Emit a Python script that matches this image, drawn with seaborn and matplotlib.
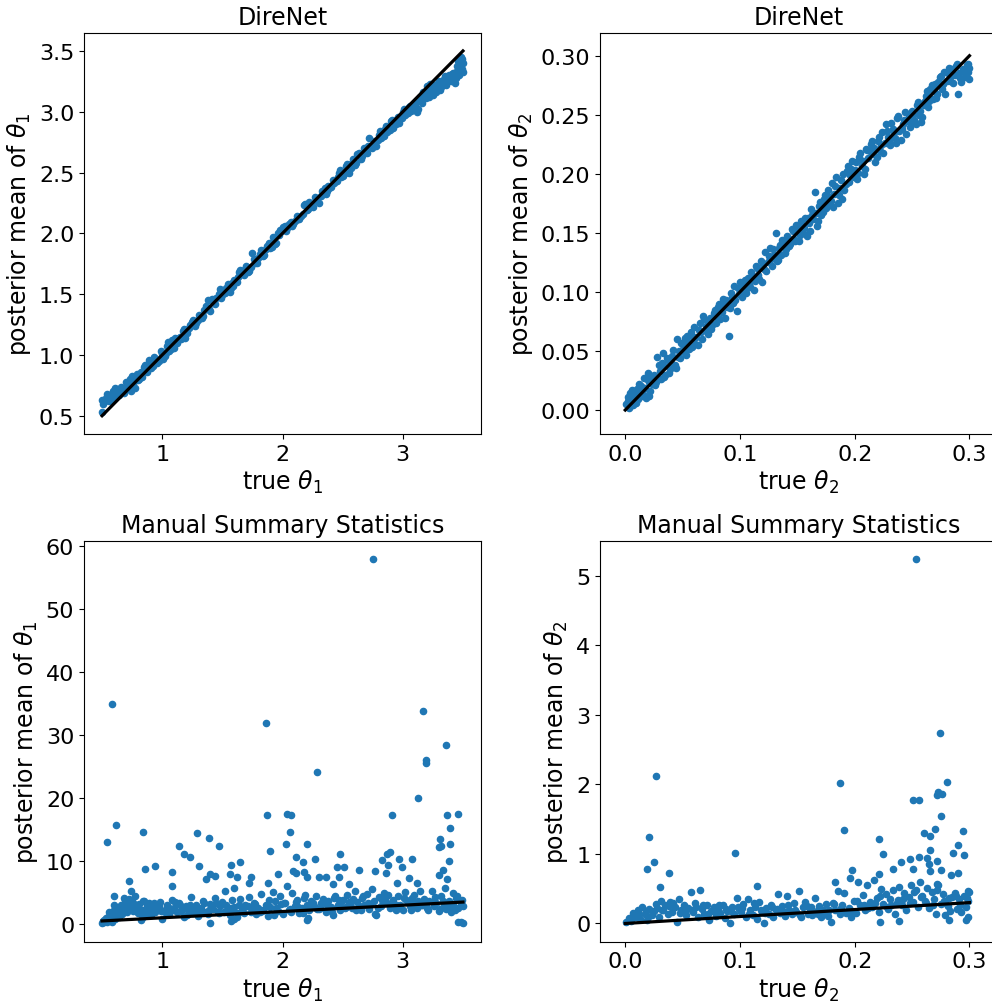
import matplotlib
matplotlib.use("Agg")
import matplotlib.pyplot as plt
import seaborn as sns

# ---------------- data ----------------
# identity reference lines (true range of each parameter)
line_theta1 = [0.5, 3.5]
line_theta2 = [0.0, 0.3]

# DireNet, theta1
dn1_true = [0.50, 0.50, 0.52, 0.53, 0.55, 0.57, 0.58, 0.60, 0.62, 0.63, 0.65, 0.67, 0.68, 0.70, 0.71,
            0.73, 0.74, 0.76, 0.78, 0.80, 0.82, 0.84, 0.86, 0.88, 0.90, 0.92, 0.95, 0.97, 1.00, 1.02,
            1.04, 1.06, 1.08, 1.10, 1.12, 1.15, 1.17, 1.19, 1.22, 1.25, 1.27, 1.30, 1.33, 1.35, 1.38,
            1.40, 1.42, 1.45, 1.48, 1.50, 1.53, 1.56, 1.58, 1.60, 1.63, 1.65, 1.68, 1.70, 1.72, 1.75,
            1.77, 1.80, 1.82, 1.85, 1.87, 1.90, 1.92, 1.94, 1.96, 1.98, 2.00, 2.03, 2.05, 2.08, 2.10,
            2.13, 2.15, 2.18, 2.20, 2.22, 2.25, 2.28, 2.30, 2.33, 2.36, 2.38, 2.40, 2.43, 2.46, 2.48,
            2.50, 2.53, 2.55, 2.58, 2.60, 2.62, 2.65, 2.68, 2.70, 2.72, 2.75, 2.78, 2.80, 2.82, 2.85,
            2.87, 2.90, 2.92, 2.95, 2.97, 3.00, 3.02, 3.05, 3.07, 3.10, 3.12, 3.14, 3.16, 3.18, 3.20,
            3.22, 3.24, 3.26, 3.28, 3.30, 3.32, 3.34, 3.36, 3.38, 3.40, 3.42, 3.44, 3.45, 3.46, 3.48,
            3.49, 3.50, 3.48, 3.47]
dn1_post = [0.53, 0.63, 0.61, 0.65, 0.64, 0.67, 0.63, 0.69, 0.66, 0.71, 0.70, 0.73, 0.69, 0.78, 0.74,
            0.80, 0.70, 0.76, 0.80, 0.79, 0.86, 0.85, 0.92, 0.89, 0.94, 0.91, 0.97, 0.95, 1.01, 0.99,
            1.07, 1.03, 1.12, 1.06, 1.10, 1.15, 1.20, 1.14, 1.22, 1.27, 1.24, 1.29, 1.30, 1.37, 1.45,
            1.36, 1.44, 1.47, 1.54, 1.49, 1.55, 1.52, 1.59, 1.62, 1.64, 1.70, 1.66, 1.73, 1.69, 1.84,
            1.76, 1.80, 1.86, 1.82, 1.90, 1.88, 1.97, 1.91, 2.00, 2.03, 2.05, 2.02, 2.08, 2.06, 2.10,
            2.12, 2.14, 2.23, 2.19, 2.26, 2.22, 2.28, 2.25, 2.35, 2.32, 2.39, 2.38, 2.41, 2.46, 2.52,
            2.47, 2.55, 2.50, 2.58, 2.56, 2.65, 2.61, 2.70, 2.66, 2.78, 2.73, 2.72, 2.81, 2.78, 2.86,
            2.83, 2.92, 2.87, 2.94, 2.91, 3.00, 2.97, 3.04, 3.01, 3.05, 3.00, 3.12, 3.07, 3.14, 3.21,
            3.12, 3.18, 3.22, 3.16, 3.25, 3.20, 3.27, 3.22, 3.30, 3.25, 3.32, 3.28, 3.38, 3.34, 3.42,
            3.35, 3.40, 3.45, 3.30]
dn1_extra = [(0.51, 0.60), (0.54, 0.68), (0.56, 0.62), (0.59, 0.70), (0.61, 0.73), (0.64, 0.67),
             (0.66, 0.74), (0.69, 0.72), (0.72, 0.77), (0.75, 0.83), (0.77, 0.73), (0.79, 0.84),
             (0.81, 0.80), (0.83, 0.82), (0.85, 0.90), (0.87, 0.86), (0.89, 0.96), (0.91, 0.89),
             (0.93, 0.98), (0.96, 0.93), (0.99, 1.03), (1.01, 0.97), (1.03, 1.02), (1.05, 1.11),
             (1.07, 1.05), (1.09, 1.08), (1.11, 1.14), (1.13, 1.12), (1.16, 1.13), (1.18, 1.21),
             (1.21, 1.18), (1.23, 1.25), (1.26, 1.29), (1.28, 1.26), (1.31, 1.33), (1.34, 1.32),
             (1.36, 1.40), (1.39, 1.38), (1.41, 1.46), (1.44, 1.42), (1.47, 1.50), (1.49, 1.47),
             (1.52, 1.51), (1.55, 1.58), (1.57, 1.55), (1.59, 1.57), (1.62, 1.60), (1.64, 1.68),
             (1.67, 1.67), (1.69, 1.71), (1.71, 1.68), (1.74, 1.72), (1.76, 1.79), (1.79, 1.76),
             (1.81, 1.83), (1.84, 1.81), (1.86, 1.87), (1.89, 1.92), (1.91, 1.89), (1.93, 1.95),
             (1.95, 1.92), (1.97, 1.99), (1.99, 2.02), (2.02, 2.06), (2.04, 2.04), (2.07, 2.09),
             (2.09, 2.08), (2.12, 2.14), (2.14, 2.12), (2.17, 2.16), (2.19, 2.24), (2.21, 2.20),
             (2.24, 2.24), (2.27, 2.30), (2.29, 2.27), (2.32, 2.31), (2.35, 2.37), (2.37, 2.35),
             (2.39, 2.37), (2.42, 2.44), (2.45, 2.43), (2.47, 2.50), (2.49, 2.46), (2.52, 2.50),
             (2.54, 2.57), (2.57, 2.54), (2.59, 2.61), (2.61, 2.58), (2.64, 2.66), (2.66, 2.64),
             (2.69, 2.67), (2.71, 2.72), (2.74, 2.70), (2.76, 2.76), (2.79, 2.77), (2.81, 2.84),
             (2.84, 2.80), (2.86, 2.88), (2.89, 2.85), (2.91, 2.93), (2.94, 2.90), (2.96, 2.96),
             (2.99, 2.95), (3.01, 3.02), (3.04, 2.99), (3.06, 3.05), (3.09, 3.03), (3.11, 3.08),
             (3.13, 3.02), (3.15, 3.10), (3.17, 3.16), (3.19, 3.11), (3.21, 3.17), (3.23, 3.23),
             (3.25, 3.14), (3.27, 3.20), (3.29, 3.24), (3.31, 3.18), (3.33, 3.23), (3.35, 3.29),
             (3.37, 3.25), (3.39, 3.27), (3.41, 3.31), (3.43, 3.24), (3.44, 3.33), (3.46, 3.42),
             (3.47, 3.36), (3.49, 3.43), (3.50, 3.33)]

# DireNet, theta2
dn2_true = [0.001, 0.002, 0.003, 0.004, 0.005, 0.006, 0.007, 0.008, 0.010, 0.011, 0.012, 0.013, 0.015,
            0.016, 0.017, 0.018, 0.020, 0.021, 0.022, 0.024, 0.026, 0.028, 0.030, 0.031, 0.033, 0.034,
            0.035, 0.037, 0.039, 0.041, 0.043, 0.045, 0.047, 0.048, 0.050, 0.052, 0.053, 0.055, 0.057,
            0.058, 0.060, 0.062, 0.063, 0.065, 0.066, 0.068, 0.070, 0.072, 0.074, 0.076, 0.078, 0.080,
            0.082, 0.084, 0.085, 0.087, 0.089, 0.090, 0.092, 0.094, 0.095, 0.097, 0.099, 0.100, 0.102,
            0.104, 0.106, 0.108, 0.110, 0.112, 0.114, 0.116, 0.118, 0.119, 0.121, 0.122, 0.124, 0.126,
            0.128, 0.130, 0.131, 0.133, 0.135, 0.137, 0.139, 0.141, 0.143, 0.145, 0.147, 0.149, 0.151,
            0.153, 0.155, 0.157, 0.158, 0.160, 0.162, 0.164, 0.165, 0.167, 0.169, 0.171, 0.173, 0.175,
            0.177, 0.179, 0.180, 0.182, 0.184, 0.185, 0.187, 0.189, 0.190, 0.192, 0.194, 0.196, 0.198,
            0.200, 0.202, 0.204, 0.206, 0.208, 0.210, 0.212, 0.214, 0.216, 0.218, 0.220, 0.222, 0.224,
            0.226, 0.227, 0.229, 0.231, 0.233, 0.235, 0.237, 0.239, 0.240, 0.242, 0.244, 0.246, 0.248,
            0.250, 0.252, 0.254, 0.256, 0.258, 0.260, 0.262, 0.264, 0.266, 0.268, 0.270, 0.272, 0.274,
            0.276, 0.278, 0.280, 0.282, 0.284, 0.286, 0.288, 0.290, 0.291, 0.293, 0.295, 0.296, 0.298,
            0.299, 0.300, 0.300]
dn2_post = [0.005, 0.011, 0.002, 0.014, 0.008, 0.017, 0.004, 0.012, 0.018, 0.009, 0.022, 0.015, 0.012,
            0.027, 0.019, 0.010, 0.031, 0.024, 0.016, 0.028, 0.021, 0.045, 0.033, 0.026, 0.048, 0.037,
            0.030, 0.042, 0.035, 0.046, 0.038, 0.060, 0.050, 0.044, 0.055, 0.061, 0.047, 0.058, 0.066,
            0.053, 0.070, 0.062, 0.055, 0.074, 0.066, 0.080, 0.071, 0.064, 0.078, 0.072, 0.085, 0.079,
            0.090, 0.083, 0.094, 0.078, 0.087, 0.063, 0.099, 0.091, 0.105, 0.084, 0.098, 0.108, 0.096,
            0.110, 0.103, 0.107, 0.117, 0.102, 0.122, 0.114, 0.126, 0.108, 0.119, 0.134, 0.125, 0.137,
            0.122, 0.131, 0.150, 0.127, 0.140, 0.144, 0.133, 0.147, 0.139, 0.153, 0.145, 0.157, 0.143,
            0.160, 0.150, 0.163, 0.147, 0.158, 0.170, 0.162, 0.185, 0.156, 0.173, 0.165, 0.179, 0.171,
            0.186, 0.177, 0.192, 0.183, 0.197, 0.175, 0.188, 0.179, 0.200, 0.191, 0.207, 0.199, 0.211,
            0.203, 0.196, 0.214, 0.207, 0.200, 0.221, 0.213, 0.225, 0.217, 0.210, 0.228, 0.219, 0.235,
            0.226, 0.242, 0.231, 0.224, 0.238, 0.230, 0.247, 0.236, 0.229, 0.242, 0.252, 0.245, 0.240,
            0.253, 0.246, 0.258, 0.250, 0.244, 0.258, 0.266, 0.257, 0.272, 0.263, 0.276, 0.268, 0.282,
            0.272, 0.286, 0.279, 0.290, 0.283, 0.277, 0.291, 0.268, 0.285, 0.278, 0.288, 0.282, 0.292,
            0.286, 0.290, 0.280]
dn2_extra = [(0.002, 0.008), (0.004, 0.003), (0.006, 0.012), (0.009, 0.006), (0.011, 0.016),
             (0.014, 0.020), (0.016, 0.013), (0.019, 0.026), (0.021, 0.012), (0.023, 0.022),
             (0.025, 0.030), (0.027, 0.024), (0.029, 0.038), (0.032, 0.040), (0.034, 0.028),
             (0.036, 0.044), (0.038, 0.031), (0.040, 0.040), (0.042, 0.051), (0.044, 0.036),
             (0.046, 0.045), (0.049, 0.057), (0.051, 0.049), (0.054, 0.063), (0.056, 0.052),
             (0.059, 0.062), (0.061, 0.056), (0.064, 0.068), (0.067, 0.060), (0.069, 0.077),
             (0.071, 0.067), (0.073, 0.075), (0.075, 0.069), (0.077, 0.082), (0.079, 0.074),
             (0.081, 0.087), (0.083, 0.077), (0.086, 0.089), (0.088, 0.093), (0.091, 0.086),
             (0.093, 0.096), (0.096, 0.093), (0.098, 0.103), (0.101, 0.100), (0.103, 0.106),
             (0.105, 0.099), (0.107, 0.112), (0.109, 0.104), (0.111, 0.113), (0.113, 0.109),
             (0.115, 0.120), (0.117, 0.111), (0.120, 0.124), (0.123, 0.118), (0.125, 0.130),
             (0.127, 0.128), (0.129, 0.136), (0.132, 0.126), (0.134, 0.137), (0.136, 0.131),
             (0.138, 0.142), (0.140, 0.136), (0.142, 0.146), (0.144, 0.141), (0.146, 0.152),
             (0.148, 0.143), (0.150, 0.155), (0.152, 0.148), (0.154, 0.157), (0.156, 0.154),
             (0.159, 0.163), (0.161, 0.152), (0.163, 0.165), (0.166, 0.167), (0.168, 0.160),
             (0.170, 0.176), (0.172, 0.168), (0.174, 0.182), (0.176, 0.174), (0.178, 0.180),
             (0.181, 0.172), (0.183, 0.190), (0.186, 0.182), (0.188, 0.195), (0.191, 0.186),
             (0.193, 0.202), (0.195, 0.193), (0.197, 0.204), (0.199, 0.197), (0.201, 0.210),
             (0.203, 0.201), (0.205, 0.218), (0.207, 0.211), (0.209, 0.204), (0.211, 0.220),
             (0.213, 0.219), (0.215, 0.228), (0.217, 0.222), (0.219, 0.214), (0.221, 0.231),
             (0.223, 0.224), (0.225, 0.218), (0.228, 0.236), (0.230, 0.228), (0.232, 0.243),
             (0.234, 0.235), (0.236, 0.226), (0.238, 0.249), (0.241, 0.238), (0.243, 0.246),
             (0.245, 0.234), (0.247, 0.249), (0.249, 0.243), (0.251, 0.251), (0.253, 0.242),
             (0.255, 0.261), (0.257, 0.253), (0.259, 0.248), (0.261, 0.262), (0.263, 0.270),
             (0.265, 0.262), (0.267, 0.275), (0.269, 0.270), (0.271, 0.264), (0.273, 0.278),
             (0.275, 0.283), (0.277, 0.276), (0.279, 0.268), (0.281, 0.285), (0.283, 0.279),
             (0.285, 0.289), (0.287, 0.284), (0.289, 0.293), (0.292, 0.281), (0.294, 0.289),
             (0.297, 0.284), (0.299, 0.293)]

# Manual summary statistics, theta1
ms1_true = [0.50, 0.51, 0.52, 0.53, 0.54, 0.55, 0.56, 0.57, 0.58, 0.59, 0.60, 0.61, 0.62, 0.63, 0.64,
            0.65, 0.66, 0.67, 0.68, 0.69, 0.70, 0.71, 0.72, 0.73, 0.74, 0.75, 0.76, 0.77, 0.78, 0.79,
            0.80, 0.81, 0.82, 0.83, 0.84, 0.85, 0.86, 0.87, 0.88, 0.89, 0.90, 0.92, 0.94, 0.96, 0.98,
            1.00, 1.02, 1.04, 1.06, 1.08, 1.10, 1.12, 1.14, 1.16, 1.18, 1.20, 1.22, 1.24, 1.26, 1.28,
            1.30, 1.32, 1.34, 1.36, 1.38, 1.40, 1.42, 1.44, 1.46, 1.48, 1.50, 1.52, 1.54, 1.56, 1.58,
            1.60, 1.62, 1.64, 1.66, 1.68, 1.70, 1.72, 1.74, 1.76, 1.78, 1.80, 1.82, 1.84, 1.86, 1.88,
            1.90, 1.92, 1.94, 1.96, 1.98, 2.00, 2.02, 2.04, 2.06, 2.08, 2.10, 2.12, 2.14, 2.16, 2.18,
            2.20, 2.22, 2.24, 2.26, 2.28, 2.30, 2.32, 2.34, 2.36, 2.38, 2.40, 2.42, 2.44, 2.46, 2.48,
            2.50, 2.52, 2.54, 2.56, 2.58, 2.60, 2.62, 2.64, 2.66, 2.68, 2.70, 2.72, 2.74, 2.76, 2.78,
            2.80, 2.82, 2.84, 2.86, 2.88, 2.90, 2.92, 2.94, 2.96, 2.98, 3.00, 3.02, 3.04, 3.06, 3.08,
            3.10, 3.12, 3.14, 3.16, 3.18, 3.20, 3.22, 3.24, 3.26, 3.28, 3.30, 3.32, 3.34, 3.36, 3.38,
            3.40, 3.42, 3.44, 3.46, 3.48, 3.50,
            0.91, 0.97, 1.03, 1.09, 1.15, 1.21, 1.27, 1.33, 1.39, 1.45, 1.51, 1.57, 1.63, 1.69, 1.75,
            1.81, 1.87, 1.93, 1.99, 2.05, 2.11, 2.17, 2.23, 2.29, 2.35, 2.41, 2.47, 2.53, 2.59, 2.65,
            2.71, 2.77, 2.83, 2.89, 2.95, 3.01, 3.07, 3.13, 3.19, 3.25, 3.31, 3.37, 3.43, 3.49,
            0.58, 0.54, 0.62, 0.72, 0.84, 0.86, 0.94, 1.08, 1.08, 1.14, 1.18, 1.23, 1.29, 1.31, 1.39,
            1.40, 1.44, 1.36, 1.47, 1.57, 1.56, 1.60, 1.62, 1.65, 1.74, 1.72, 1.86, 1.87, 1.90, 1.88,
            1.96, 2.03, 2.04, 2.07, 2.06, 2.11, 2.09, 2.11, 2.17, 2.18, 2.20, 2.20, 2.29, 2.27, 2.30,
            2.36, 2.42, 2.45, 2.48, 2.51, 2.47, 2.55, 2.64, 2.75, 2.77, 2.83, 2.87, 2.89, 2.86, 2.88,
            2.91, 2.97, 2.99, 2.95, 3.08, 3.05, 3.12, 3.13, 3.17, 3.19, 3.19, 3.31, 3.30, 3.32, 3.30,
            3.33, 3.36, 3.37, 3.39, 3.39, 3.38, 3.37, 3.46, 3.35, 3.42, 3.46, 3.50, 3.48, 1.40, 2.20,
            2.21, 1.57, 1.60, 0.60, 0.74]
ms1_post = [0.2, 0.5, 0.3, 0.9, 0.4, 1.2, 0.6, 1.5, 0.3, 1.8, 2.2, 0.8, 1.4, 2.6, 1.1,
            2.0, 3.1, 1.6, 2.4, 3.8, 2.9, 1.9, 4.0, 3.3, 2.5, 3.6, 2.1, 4.4, 3.0, 2.6,
            1.7, 3.2, 0.7, 2.3, 1.2, 3.7, 2.0, 2.8, 1.5, 3.4, 2.4, 3.1, 1.9, 2.7, 3.5,
            0.8, 2.2, 3.0, 1.6, 3.8, 2.5, 1.9, 3.3, 2.1, 1.2, 2.8, 2.3, 4.3, 1.7, 3.0,
            1.3, 2.6, 3.6, 2.0, 1.6, 3.2, 2.4, 4.1, 1.9, 2.8, 3.5, 5.3, 2.2, 1.4, 3.9,
            2.7, 1.1, 3.1, 2.3, 1.8, 2.9, 4.3, 2.0, 3.4, 1.6, 2.5, 4.8, 2.2, 3.0, 1.3,
            2.7, 5.1, 3.6, 2.1, 4.4, 1.6, 3.3, 6.0, 2.4, 4.9, 2.9, 3.8, 1.8, 2.6, 4.2,
            3.1, 2.2, 3.7, 2.8, 4.5, 2.4, 3.3, 4.0, 2.0, 3.6, 2.7, 1.5, 4.4, 3.0, 2.3,
            3.9, 2.6, 4.7, 3.2, 2.5, 5.2, 3.5, 2.8, 4.1, 3.0, 4.8, 2.4, 5.5, 3.7, 1.4,
            4.3, 2.9, 5.0, 3.3, 4.6, 2.7, 3.8, 2.3, 4.5, 3.1, 2.2, 5.1, 3.6, 2.9, 4.2,
            3.4, 2.6, 5.3, 3.0, 4.0, 2.5, 3.7, 5.2, 2.8, 3.3, 2.1, 4.4, 3.0, 2.4, 3.6,
            2.0, 3.1, 4.2, 2.6, 3.3, 2.8,
            1.4, 2.9, 1.8, 2.3, 3.0, 1.5, 2.6, 1.9, 2.2, 3.4, 2.0, 2.5, 1.7, 3.1, 2.4,
            1.9, 2.8, 1.5, 3.2, 2.2, 3.5, 1.8, 2.9, 2.4, 3.3, 2.0, 3.8, 2.7, 4.0, 2.3,
            3.4, 1.6, 3.9, 2.5, 3.0, 4.1, 2.2, 3.6, 2.8, 3.5, 2.4, 3.1, 2.2, 3.9,
            35.0, 13.1, 15.8, 6.8, 14.6, 8.7, 9.2, 8.2, 6.0, 12.4, 11.2, 10.6, 14.4, 9.3, 13.6,
            7.9, 7.6, 7.1, 12.4, 9.4, 7.9, 5.8, 7.5, 9.9, 7.5, 6.6, 31.9, 17.3, 11.6, 6.5,
            8.0, 12.7, 17.5, 17.4, 14.7, 10.7, 8.5, 8.1, 9.8, 8.2, 7.5, 12.7, 24.1, 10.3, 7.5,
            7.5, 6.4, 9.0, 11.1, 9.1, 7.5, 6.4, 8.6, 58.0, 8.5, 10.2, 11.2, 11.5, 8.1, 9.4,
            17.4, 10.4, 9.0, 6.6, 10.3, 7.4, 6.6, 20.0, 33.9, 26.0, 25.6, 13.5, 12.2, 12.4, 7.8,
            8.6, 28.4, 17.4, 15.2, 12.7, 10.0, 7.2, 17.5, 5.8, 5.0, 0.4, 0.2, 0.3, 0.1, 0.6,
            0.9, 0.5, 0.8, 4.4, 5.3]
ms1_extra = [(0.52, 0.7), (0.56, 1.9), (0.60, 3.0), (0.64, 2.2), (0.68, 4.2), (0.72, 2.7),
             (0.76, 3.4), (0.80, 2.0), (0.84, 3.6), (0.88, 2.5), (0.93, 3.3), (0.99, 2.1),
             (1.05, 2.7), (1.11, 3.5), (1.17, 2.4), (1.23, 3.1), (1.29, 2.0), (1.35, 3.4),
             (1.41, 2.6), (1.47, 1.8), (1.53, 3.0), (1.59, 2.3), (1.65, 4.0), (1.71, 2.8),
             (1.77, 3.2), (1.83, 2.1), (1.89, 3.9), (1.95, 2.6), (2.01, 3.4), (2.07, 2.0),
             (2.13, 2.7), (2.19, 4.6), (2.25, 3.3), (2.31, 2.5), (2.37, 3.0), (2.43, 4.1),
             (2.49, 2.9), (2.55, 3.5), (2.61, 2.2), (2.67, 4.4), (2.73, 3.2), (2.79, 2.5),
             (2.85, 4.0), (2.91, 3.5), (2.97, 2.6), (3.03, 3.9), (3.09, 4.6), (3.15, 3.1),
             (3.21, 2.3), (3.27, 4.3), (3.33, 3.6), (3.39, 2.7), (3.45, 4.5)]

# Manual summary statistics, theta2
ms2_true = [0.001, 0.003, 0.005, 0.007, 0.009, 0.011, 0.013, 0.015, 0.017, 0.019, 0.021, 0.023, 0.025,
            0.027, 0.029, 0.031, 0.033, 0.035, 0.037, 0.039, 0.041, 0.043, 0.045, 0.047, 0.049, 0.051,
            0.053, 0.055, 0.057, 0.059, 0.061, 0.063, 0.065, 0.067, 0.069, 0.071, 0.073, 0.075, 0.077,
            0.079, 0.081, 0.083, 0.085, 0.087, 0.089, 0.091, 0.093, 0.095, 0.097, 0.099, 0.101, 0.103,
            0.105, 0.107, 0.109, 0.111, 0.113, 0.115, 0.117, 0.119, 0.121, 0.123, 0.125, 0.127, 0.129,
            0.131, 0.133, 0.135, 0.137, 0.139, 0.141, 0.143, 0.145, 0.147, 0.149, 0.151, 0.153, 0.155,
            0.157, 0.159, 0.161, 0.163, 0.165, 0.167, 0.169, 0.171, 0.173, 0.175, 0.177, 0.179, 0.181,
            0.183, 0.185, 0.187, 0.189, 0.191, 0.193, 0.195, 0.197, 0.199, 0.201, 0.203, 0.205, 0.207,
            0.209, 0.211, 0.213, 0.215, 0.217, 0.219, 0.221, 0.223, 0.225, 0.227, 0.229, 0.231, 0.233,
            0.235, 0.237, 0.239, 0.241, 0.243, 0.245, 0.247, 0.249, 0.251, 0.253, 0.255, 0.257, 0.259,
            0.261, 0.263, 0.265, 0.267, 0.269, 0.271, 0.273, 0.275, 0.277, 0.279, 0.281, 0.283, 0.285,
            0.287, 0.289, 0.291, 0.293, 0.295, 0.297, 0.299, 0.300,
            0.008, 0.018, 0.028, 0.038, 0.048, 0.058, 0.068, 0.078, 0.088, 0.098, 0.108, 0.118, 0.128,
            0.138, 0.148, 0.158, 0.168, 0.178, 0.188, 0.198, 0.208, 0.218, 0.228, 0.238, 0.248, 0.258,
            0.268, 0.278, 0.288, 0.298,
            0.2535, 0.0265, 0.021, 0.025, 0.0186, 0.038, 0.030, 0.096, 0.115, 0.187, 0.191, 0.198, 0.196,
            0.183, 0.221, 0.225, 0.221, 0.233, 0.240, 0.248, 0.251, 0.256, 0.251, 0.256, 0.260, 0.266,
            0.266, 0.265, 0.266, 0.263, 0.272, 0.273, 0.276, 0.274, 0.270, 0.275, 0.272, 0.275, 0.272,
            0.280, 0.294, 0.290, 0.286, 0.295, 0.290, 0.284, 0.282, 0.297, 0.299, 0.279, 0.222, 0.239,
            0.299]
ms2_post = [0.02, 0.08, 0.04, 0.15, 0.10, 0.19, 0.07, 0.23, 0.14, 0.05, 0.21, 0.12, 0.18,
            0.28, 0.09, 0.33, 0.20, 0.26, 0.13, 0.31, 0.17, 0.24, 0.02, 0.35, 0.19, 0.27,
            0.12, 0.22, 0.45, 0.16, 0.30, 0.09, 0.48, 0.21, 0.14, 0.26, 0.05, 0.18, 0.23,
            0.11, 0.20, 0.15, 0.26, 0.08, 0.18, 0.01, 0.24, 0.13, 0.37, 0.21, 0.16, 0.28,
            0.10, 0.35, 0.19, 0.12, 0.24, 0.07, 0.31, 0.17, 0.01, 0.22, 0.14, 0.27, 0.09,
            0.19, 0.43, 0.15, 0.25, 0.11, 0.40, 0.20, 0.13, 0.29, 0.17, 0.46, 0.10, 0.23,
            0.31, 0.14, 0.21, 0.12, 0.36, 0.18, 0.25, 0.09, 0.16, 0.28, 0.11, 0.02, 0.30,
            0.20, 0.47, 0.14, 0.26, 0.44, 0.17, 0.22, 0.09, 0.33, 0.15, 0.60, 0.26, 0.41,
            0.19, 0.55, 0.31, 0.23, 0.62, 0.36, 0.17, 0.50, 0.28, 0.42, 0.21, 0.35, 0.48,
            0.13, 0.30, 0.52, 0.27, 0.44, 0.19, 0.38, 0.56, 0.31, 0.48, 0.24, 0.60, 0.40,
            0.33, 0.51, 0.22, 0.45, 0.35, 0.13, 0.55, 0.28, 0.42, 0.30, 0.25, 0.18, 0.38,
            0.44, 0.21, 0.35, 0.16, 0.40, 0.23, 0.32, 0.45,
            0.12, 0.18, 0.22, 0.25, 0.15, 0.20, 0.26, 0.17, 0.21, 0.24, 0.14, 0.19, 0.23,
            0.16, 0.20, 0.25, 0.13, 0.19, 0.22, 0.18, 0.26, 0.30, 0.24, 0.34, 0.29, 0.38,
            0.27, 0.33, 0.40, 0.36,
            5.24, 2.12, 1.24, 0.89, 0.79, 0.73, 0.52, 1.01, 0.54, 2.02, 1.35, 0.77, 0.66,
            0.60, 1.21, 1.00, 0.71, 0.78, 0.88, 0.92, 1.78, 1.77, 0.79, 0.95, 1.30, 1.26,
            1.05, 0.85, 0.76, 0.94, 1.84, 1.89, 1.86, 2.74, 1.36, 1.54, 0.90, 0.77, 0.57,
            2.04, 1.33, 1.13, 1.02, 0.99, 0.73, 0.70, 0.05, 0.05, 0.10, 0.12, 0.02, 0.04,
            0.46]
ms2_extra = [(0.004, 0.06), (0.012, 0.14), (0.020, 0.09), (0.032, 0.20), (0.042, 0.29),
             (0.052, 0.16), (0.062, 0.23), (0.072, 0.13), (0.082, 0.27), (0.092, 0.18),
             (0.102, 0.22), (0.112, 0.30), (0.122, 0.15), (0.132, 0.21), (0.142, 0.26),
             (0.152, 0.12), (0.162, 0.24), (0.172, 0.19), (0.182, 0.28), (0.192, 0.15),
             (0.202, 0.33), (0.212, 0.22), (0.222, 0.40), (0.232, 0.27), (0.242, 0.35),
             (0.252, 0.45), (0.262, 0.30), (0.272, 0.48), (0.282, 0.37), (0.292, 0.26)]

titles = ["DireNet", "DireNet", "Manual Summary Statistics", "Manual Summary Statistics"]


def merged(xs, ys, extra):
    return list(xs) + [p[0] for p in extra], list(ys) + [p[1] for p in extra]


# ---------------- figure ----------------
plt.rcParams['font.family'] = ['DejaVu Sans']
fig = plt.figure(figsize=(9.92, 10.03), dpi=100)

W, H = 992.0, 1003.0
def box(l, t, w, h):
    return [l / W, 1 - (t + h) / H, w / W, h / H]

ax_tl = fig.add_axes(box(84, 33.7, 397, 401.3))
ax_tr = fig.add_axes(box(600, 33.7, 397, 401.3))
ax_bl = fig.add_axes(box(84, 541.7, 397, 401.0))
ax_br = fig.add_axes(box(600, 541.7, 397, 401.0))

blue = "#1f77b4"
panels = [
    (ax_tl, *merged(dn1_true, dn1_post, dn1_extra), line_theta1, 1, titles[0]),
    (ax_tr, *merged(dn2_true, dn2_post, dn2_extra), line_theta2, 2, titles[1]),
    (ax_bl, *merged(ms1_true, ms1_post, ms1_extra), line_theta1, 1, titles[2]),
    (ax_br, *merged(ms2_true, ms2_post, ms2_extra), line_theta2, 2, titles[3]),
]

for ax, xs, ys, ln, k, title in panels:
    sns.scatterplot(x=xs, y=ys, ax=ax, color=blue, s=20, edgecolor=blue, linewidth=1.0,
                    zorder=2)
    sns.lineplot(x=ln, y=ln, ax=ax, color="black", linewidth=2.3, zorder=3)
    ax.set_title(title, fontsize=17)
    ax.set_xlabel(r"true $\theta_%d$" % k, fontsize=17, labelpad=3)
    ax.set_ylabel(r"posterior mean of $\theta_%d$" % k, fontsize=17)
    ax.tick_params(labelsize=16)

ax_tr.set_xlim(-0.022, 0.324)
ax_br.set_xlim(-0.022, 0.324)
ax_tr.set_ylim(-0.0203, 0.3195)
ax_tr.set_yticks([0.0, 0.05, 0.10, 0.15, 0.20, 0.25, 0.30])
ax_tr.set_xticks([0.0, 0.1, 0.2, 0.3])
ax_br.set_xticks([0.0, 0.1, 0.2, 0.3])
ax_tl.set_xticks([1, 2, 3])
ax_bl.set_xticks([1, 2, 3])

fig.savefig("out.png", dpi=100)
